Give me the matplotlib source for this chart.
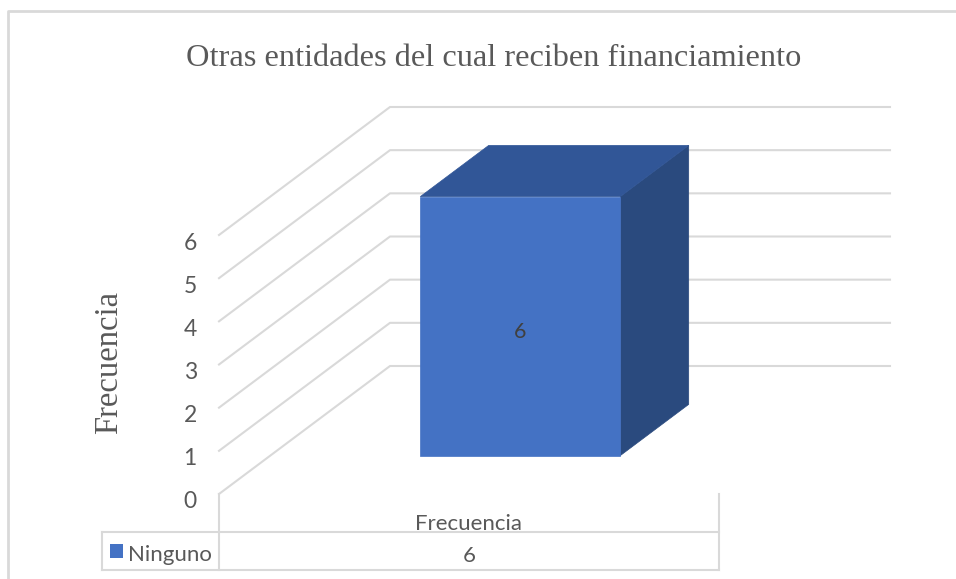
import matplotlib
matplotlib.use("Agg")
import matplotlib.pyplot as plt
from matplotlib.patches import Polygon, Rectangle
from matplotlib.lines import Line2D
from matplotlib.transforms import ScaledTranslation

# datos del grafico
titulo = "Otras entidades del cual reciben financiamiento"
categorias = ["Frecuencia"]
serie = "Ninguno"
valores = [6]
eje_y = [0, 1, 2, 3, 4, 5, 6]

# colores estilo Excel
azul = "#4472C4"
azul_top = "#315697"
azul_lado = "#2A4A7E"
gris_txt = "#595959"
gris_lin = "#D9D9D9"

W, H = 956, 579
fig = plt.figure(figsize=(W / 100, H / 100), dpi=100)

# capa en pixeles para marco, titulo y tabla
pix = fig.add_axes([0, 0, 1, 1])
pix.set_xlim(0, W)
pix.set_ylim(H, 0)
pix.axis("off")

# plano frontal del grafico 3D (categoria 0..1, valor 0..6)
x0, x1 = 219, 719
y0, y1 = 494, 235
ax = fig.add_axes([x0 / W, (H - y0) / H, (x1 - x0) / W, (y0 - y1) / H])
ax.set_xlim(0, len(categorias))
ax.set_ylim(0, max(eje_y))
ax.patch.set_visible(False)
for s in ax.spines.values():
    s.set_visible(False)
ax.set_xticks([])
ax.set_yticks(eje_y)
ax.tick_params(axis="y", length=0, pad=16, labelsize=16.5, labelcolor=gris_txt)
for lab in ax.get_yticklabels():
    lab.set_fontfamily("Lato")
    lab.set_transform(lab.get_transform() + ScaledTranslation(0, -6 / 100, fig.dpi_scale_trans))

# vector de profundidad (en unidades de datos)
unidad_v = (y0 - y1) / max(eje_y)
dx = 171 / (x1 - x0)
dy = 128 / unidad_v


def proy(x, v, z):
    return (x + z * dx, v + z * dy)


# paredes: lineas de cuadricula
for v in eje_y:
    a = proy(0, v, 0)
    b = proy(0, v, 1)
    c = proy(len(categorias), v, 1)
    ax.add_line(Line2D([a[0], b[0], c[0]], [a[1], b[1], c[1]], color=gris_lin,
                       lw=1.5, clip_on=False, zorder=1))

# barras 3D
ancho, z_a, z_b = 0.4, 0.3, 0.7
baja = ScaledTranslation(0, -6 / 100, fig.dpi_scale_trans)
for i, val in enumerate(valores):
    xa = i + 0.5 - ancho / 2
    xb = i + 0.5 + ancho / 2
    frente = [proy(xa, 0, z_a), proy(xb, 0, z_a), proy(xb, val, z_a), proy(xa, val, z_a)]
    arriba = [proy(xa, val, z_a), proy(xb, val, z_a), proy(xb, val, z_b), proy(xa, val, z_b)]
    lado = [proy(xb, 0, z_a), proy(xb, 0, z_b), proy(xb, val, z_b), proy(xb, val, z_a)]
    for pts, col in [(lado, azul_lado), (arriba, azul_top), (frente, azul)]:
        ax.add_patch(Polygon(pts, closed=True, facecolor=col, edgecolor=col,
                             lw=0.5, clip_on=False, zorder=3))
    cx, cy = proy(i + 0.5, val / 2, z_a)
    ax.text(cx, cy, str(val), ha="center", va="center", fontsize=15.5,
            color="#404040", family="Lato", zorder=4,
            transform=ax.transData + baja)

# marco del grafico
pix.add_line(Line2D([8, 8, W], [H, 11, 11], color=gris_lin, lw=2))

# titulo y eje
pix.text(494, 58, titulo, ha="center", va="center", fontsize=23.3,
         family="Liberation Serif", color=gris_txt)
pix.text(109, 362, "Frecuencia", ha="center", va="center", rotation=90,
         fontsize=23.5, family="Liberation Serif", color=gris_txt)

# tabla de datos
t_izq, t_med, t_der = 102, x0, x1
f1, f2 = 532, 570
for yy in (f1, f2):
    pix.add_line(Line2D([t_izq, t_der], [yy, yy], color=gris_lin, lw=1.5))
pix.add_line(Line2D([t_izq, t_izq], [f1, f2], color=gris_lin, lw=1.5))
pix.add_line(Line2D([t_med, t_med], [y0, f2], color=gris_lin, lw=1.5))
pix.add_line(Line2D([t_der, t_der], [y0, f2], color=gris_lin, lw=1.5))
ancho_col = (t_der - t_med) / len(categorias)
for i, cat in enumerate(categorias):
    cx = t_med + ancho_col * (i + 0.5)
    pix.text(cx, 524, cat, ha="center", va="center", fontsize=16,
             family="Lato", color=gris_txt)
    pix.text(cx, 556, str(valores[i]), ha="center", va="center", fontsize=16,
             family="Lato", color=gris_txt)
pix.add_patch(Rectangle((110, 544), 13, 14, facecolor=azul, edgecolor="none"))
pix.text(128, 555, serie, ha="left", va="center", fontsize=16,
         family="Lato", color=gris_txt)

fig.savefig("out.png", dpi=100)
